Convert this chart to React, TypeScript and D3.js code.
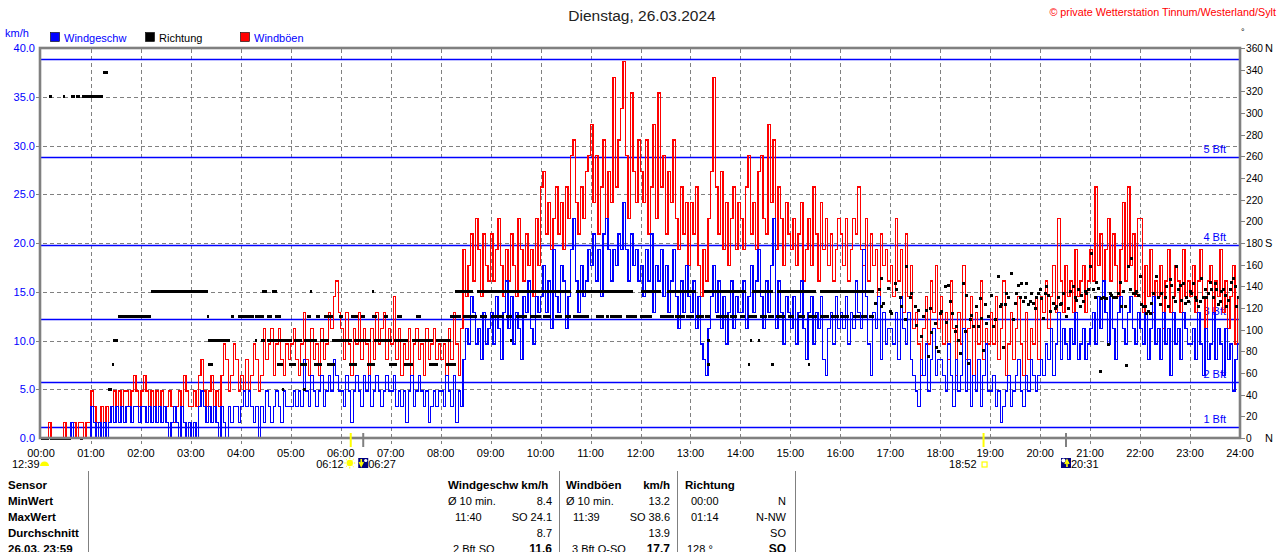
import React from 'react';
import * as d3 from 'd3';

// ---------- data ----------
const KMH_PER_STEP = 1.609; // station resolution: 1 mph
const SAMPLE_MIN = 3; // one reading every 3 minutes

// wind speed (Windgeschw), in station steps, 20 readings per hour
const speedSteps = [
  0,0,0,0,0,0,0,0,0,0,0,0,1,0,0,0,0,0,0,0,
  2,1,0,1,0,1,0,1,2,1,2,1,2,1,2,2,1,2,2,1,
  2,2,1,2,1,2,1,2,1,2,1,0,1,2,1,0,2,1,0,1,
  0,1,0,2,3,2,1,2,1,2,1,0,2,1,0,2,1,2,2,1,
  2,3,2,3,2,1,2,0,2,1,3,2,1,2,3,2,1,3,2,2,
  2,3,2,3,2,5,3,2,4,3,2,3,4,2,3,4,3,5,4,3,
  3,2,4,3,1,3,4,3,2,4,3,4,2,3,4,3,2,3,4,3,
  3,4,2,3,2,3,1,3,4,2,3,4,3,2,3,1,2,3,2,3,
  3,2,4,3,2,4,1,3,2,5,7,6,9,8,6,7,5,8,6,7,
  8,6,9,7,5,8,10,7,9,6,8,7,5,9,8,10,7,6,9,8,
  9,11,8,10,7,12,9,8,11,10,7,9,12,14,10,8,11,9,10,12,
  11,13,10,12,9,13,14,12,10,12,11,13,12,15,12,10,13,11,12,10,
  11,9,12,10,13,8,11,10,12,9,11,8,10,12,9,7,10,8,11,9,
  8,10,7,9,6,5,4,7,9,11,8,10,7,9,6,8,10,7,9,8,
  8,10,7,9,11,8,10,12,9,7,10,8,11,14,7,10,8,6,9,8,
  7,9,6,8,10,7,5,8,9,6,8,7,9,5,4,7,8,6,9,7,
  8,7,9,6,8,7,10,8,7,12,9,6,4,8,7,9,5,8,6,7,
  7,6,8,5,9,7,6,8,5,4,3,2,5,4,6,3,5,7,4,5,
  5,4,3,6,4,2,5,3,4,7,3,5,2,4,3,5,2,4,6,3,
  3,4,2,3,1,2,3,4,2,3,4,5,3,2,4,3,5,4,3,4,
  5,4,6,5,7,4,6,8,5,7,6,5,7,6,8,5,6,7,5,6,
  7,8,6,9,7,10,8,6,9,7,5,8,9,7,6,8,9,7,6,8,
  7,6,8,5,7,9,6,7,5,8,6,7,4,8,6,7,5,8,7,6,
  6,7,5,8,6,4,7,5,6,8,5,7,6,4,7,5,6,3,5,6,
];

// gusts (Windböen), in station steps
const gustSteps = [
  0,0,0,1,0,0,0,0,0,1,0,0,1,1,0,1,1,0,1,1,
  3,2,1,1,2,1,2,1,2,3,2,3,2,3,3,2,3,4,3,2,
  3,4,3,2,3,2,3,2,3,2,2,3,2,1,2,3,2,4,3,2,
  2,3,2,4,5,3,2,3,4,2,3,2,4,6,5,3,4,6,5,3,
  4,3,5,3,4,6,5,3,4,7,5,6,7,4,6,7,5,4,6,5,
  6,7,5,4,6,8,5,4,7,5,6,4,7,5,6,8,7,9,10,8,
  7,5,8,6,4,7,6,8,5,7,6,4,7,5,8,6,7,8,5,7,
  6,9,5,7,4,6,5,7,4,6,7,5,6,4,7,5,6,7,5,6,
  5,6,4,7,5,8,6,4,7,12,9,11,13,10,14,12,9,13,11,10,
  13,10,12,14,11,9,12,10,13,11,9,14,12,10,13,11,12,9,14,11,
  16,17,13,15,12,14,16,13,15,12,16,14,18,19,15,13,16,14,17,18,
  20,15,18,13,16,19,14,17,15,23,16,19,21,24,18,14,22,17,15,19,
  17,15,19,13,16,20,14,22,16,18,13,17,15,19,14,12,16,13,15,11,
  15,13,16,11,9,12,10,14,17,23,16,13,17,12,15,11,14,16,12,15,
  14,12,16,18,13,15,12,17,18,14,13,20,15,19,12,16,14,11,15,13,
  12,14,11,13,15,10,12,14,11,16,13,10,15,12,14,11,13,10,12,14,
  13,11,14,10,12,14,13,16,12,11,14,10,13,11,12,9,13,11,12,10,
  11,9,14,10,12,8,13,9,11,7,8,6,4,7,9,6,10,8,11,7,
  9,6,8,5,10,7,4,8,6,11,5,7,9,4,8,6,10,5,7,6,
  8,6,9,5,7,10,4,6,8,5,7,9,6,4,8,5,7,6,9,5,
  9,8,10,7,9,11,8,14,10,8,11,9,10,8,12,9,10,11,8,10,
  12,10,16,11,13,9,12,14,10,13,11,9,12,15,10,16,11,13,9,14,
  14,8,11,9,12,8,10,9,11,7,10,12,8,9,11,10,8,12,9,10,
  9,11,8,10,12,9,7,10,11,8,10,9,12,8,10,7,9,11,6,9,
];

// direction (Richtung) runs: [start minute, end minute, degrees]
const dirRuns: [number, number, number][] = [
  [0,9,0],[11,25,0],[27,35,0],[47,48,0],
  [10,10,315],[26,26,315],[36,40,315],[42,46,315],[49,73,315],
  [74,79,337.5],[80,84,45],[85,85,67.5],[86,91,90],[92,131,112.5],[132,199,135],
  [199,200,112.5],[201,206,67.5],[200,226,90],
  [228,231,112.5],[236,255,112.5],[257,267,112.5],[271,277,112.5],[281,287,112.5],
  [265,270,135],[277,282,135],[323,323,135],[397,397,135],
  [257,258,90],[264,268,90],[272,287,90],
  [287,300,90],[304,312,90],[316,330,90],[335,345,90],[350,372,90],[376,395,90],
  [400,420,90],[424,440,90],[445,470,90],[474,491,90],
  [283,290,67.5],[298,305,67.5],[311,318,67.5],[328,336,67.5],[344,352,67.5],[370,378,67.5],
  [392,400,67.5],[418,426,67.5],[436,446,67.5],[466,476,67.5],[486,497,67.5],
  [319,323,112.5],[330,334,112.5],[340,350,112.5],[358,362,112.5],[372,380,112.5],
  [384,388,112.5],[398,402,112.5],[412,416,112.5],[428,432,112.5],[450,455,112.5],
  [289,289,45],[315,315,45],
  [497,518,135],[524,636,135],[642,710,135],[720,744,135],[752,786,135],
  [796,846,135],[854,878,135],[884,930,135],[936,999,135],
  [491,503,112.5],[507,523,112.5],[527,535,112.5],[541,555,112.5],[559,565,112.5],
  [571,583,112.5],[587,599,112.5],[603,611,112.5],[617,625,112.5],[629,635,112.5],
  [639,657,112.5],[667,675,112.5],[679,681,112.5],[683,689,112.5],[691,697,112.5],
  [703,715,112.5],[719,733,112.5],[743,759,112.5],[761,773,112.5],[775,783,112.5],
  [787,795,112.5],[797,803,112.5],[811,825,112.5],[827,835,112.5],[839,845,112.5],
  [849,859,112.5],[863,871,112.5],[873,879,112.5],[883,893,112.5],[897,903,112.5],
  [909,917,112.5],[921,931,112.5],[935,945,112.5],[949,957,112.5],[959,969,112.5],
  [975,983,112.5],[985,991,112.5],[994,999,112.5],
  [563,563,90],[800,800,90],[851,851,90],[861,861,90],
  [800,800,67.5],[849,849,67.5],[877,877,67.5],[921,921,67.5],
];

// direction single readings in the evening: [minute, degrees]
const dirDots: [number, number][] = [
  [1002,124],[1007,137],[1009,147],[1010,121],[1012,124],[1018,138],[1020,117],[1022,115],[1026,143],[1028,137],
  [1032,130],[1034,121],[1038,109],[1040,158],[1044,130],[1046,133],[1050,121],[1052,104],[1054,118],[1058,94],
  [1060,112],[1063,118],[1066,75],[1068,120],[1070,97],[1074,106],[1076,84],[1078,80],[1080,115],[1082,117],
  [1086,140],[1088,107],[1090,141],[1092,126],[1095,115],[1098,98],[1100,103],[1102,90],[1104,78],[1108,143],
  [1110,98],[1112,132],[1114,69],[1116,109],[1118,113],[1120,103],[1124,121],[1126,103],[1128,129],[1130,110],
  [1132,81],[1134,123],[1136,106],[1138,112],[1142,132],[1144,103],[1146,109],[1150,149],[1152,121],[1154,123],
  [1156,84],[1158,123],[1160,133],[1162,130],[1166,152],[1168,109],[1170,124],[1172,133],[1174,141],[1176,130],
  [1178,143],[1180,126],[1182,130],[1184,143],[1186,123],[1188,126],[1190,133],[1192,124],[1194,120],[1196,130],
  [1198,133],[1200,137],[1202,129],[1204,110],[1206,133],[1208,140],[1210,132],[1212,117],[1216,124],[1218,120],
  [1220,121],[1222,130],[1224,123],[1226,124],[1228,133],[1232,112],[1234,120],[1236,135],[1240,140],[1242,130],
  [1244,127],[1246,137],[1248,121],[1250,132],[1252,126],[1254,135],[1256,133],[1258,137],[1260,158],[1262,170],
  [1264,137],[1266,130],[1268,144],[1270,138],[1272,61],[1274,129],[1276,130],[1278,129],[1280,129],[1282,86],
  [1284,133],[1286,132],[1288,130],[1292,130],[1294,133],[1296,144],[1298,121],[1300,135],[1302,121],[1304,67],
  [1306,158],[1308,137],[1310,166],[1312,133],[1314,133],[1316,135],[1318,132],[1320,149],[1322,123],[1324,121],
  [1326,121],[1328,115],[1330,117],[1332,115],[1334,124],[1336,133],[1340,149],[1342,130],[1344,123],[1346,133],
  [1350,130],[1352,140],[1354,121],[1356,146],[1358,141],[1360,130],[1362,126],[1364,158],[1366,137],[1368,141],
  [1370,127],[1372,143],[1374,124],[1376,130],[1378,126],[1380,135],[1382,133],[1384,143],[1386,130],[1388,127],
  [1390,121],[1392,126],[1394,147],[1396,130],[1398,137],[1400,130],[1402,133],[1404,144],[1406,137],[1408,130],
  [1410,143],[1412,137],[1414,123],[1416,126],[1418,135],[1420,137],[1422,132],[1424,121],[1426,127],[1428,137],
  [1430,144],[1432,147],[1434,140],[1436,121],[1438,130],
];

const bftLevels = [1.08, 5.76, 12.24, 19.8, 28.8, 38.88];
const bftLabels = ['1 Bft', '2 Bft', '3 Bft', '4 Bft', '5 Bft', ''];
const kmhTicks = [0, 5, 10, 15, 20, 25, 30, 35, 40];
const dirTicks = [0, 20, 40, 60, 80, 100, 120, 140, 160, 180, 200, 220, 240, 260, 280, 300, 320, 340, 360];
const dirTickSuffix: Record<number, string> = { 0: 'N', 180: 'S', 360: 'N' };
const hourTicks = d3.range(0, 25);

// sun / moon events (minutes)
const sunrise = { t: 372, label: '06:12' };
const moonrise = { t: 387, label: '06:27' };
const sunset = { t: 1132, label: '18:52' };
const moonset = { t: 1231, label: '20:31' };

const tableRows = ['Sensor', 'MinWert', 'MaxWert', 'Durchschnitt', '26.03. 23:59'];

// ---------- chart ----------
const FONT = '"Liberation Sans", Arial, sans-serif';
const BLUE = '#0000ff';
const GRID = '#808080';

export default function App() {
  const x = d3.scaleLinear().domain([0, 1440]).range([41, 1240]);
  const y = d3.scaleLinear().domain([0, 40]).range([438, 48]);
  const yDir = d3.scaleLinear().domain([0, 360]).range([438, 48]);

  const toPoints = (arr: number[]): [number, number][] => {
    const pts: [number, number][] = arr.map((v, i) => [i * SAMPLE_MIN, v * KMH_PER_STEP]);
    pts.push([1440, arr[arr.length - 1] * KMH_PER_STEP]);
    return pts;
  };
  const line = d3
    .line<[number, number]>()
    .x((d) => x(d[0]))
    .y((d) => y(d[1]))
    .curve(d3.curveStepAfter);

  const speedPath = line(toPoints(speedSteps)) || '';
  const gustPath = line(toPoints(gustSteps)) || '';

  const fmtHour = (h: number) => `${String(h).padStart(2, '0')}:00`;

  const txt = { fontFamily: FONT, fontSize: 11 } as const;

  return (
    <svg
      width={1280}
      height={552}
      style={{ position: 'fixed', left: 0, top: 0, background: '#fff' }}
    >
      <rect x={0} y={0} width={1280} height={552} fill="#fff" />
      {/* title */}
      <text x={642} y={21} textAnchor="middle" fontFamily={FONT} fontSize={15.5} fill="#222">
        Dienstag, 26.03.2024
      </text>
      <text x={1276} y={16} textAnchor="end" fontFamily={FONT} fontSize={10.8} fill="#ff0000">
        © private Wetterstation Tinnum/Westerland/Sylt
      </text>
      <text x={1241} y={35} {...txt} fontSize={9} fill="#000">°</text>

      {/* unit + legend */}
      <text x={5} y={37} {...txt} fill={BLUE}>km/h</text>
      <rect x={50.5} y={32.5} width={9} height={9} fill={BLUE} stroke="#000" strokeWidth={0.6} />
      <text x={64} y={42} {...txt} fill={BLUE}>Windgeschw</text>
      <rect x={145.5} y={32.5} width={9} height={9} fill="#000" stroke="#000" strokeWidth={0.6} />
      <text x={159} y={42} {...txt} fill="#000">Richtung</text>
      <rect x={240.5} y={32.5} width={9} height={9} fill="#ff0000" stroke="#000" strokeWidth={0.6} />
      <text x={254} y={42} {...txt} fill={BLUE}>Windböen</text>

      {/* grid */}
      {hourTicks.slice(1, 24).map((h) => (
        <line key={'vg' + h} x1={Math.round(x(h * 60)) + 0.5} x2={Math.round(x(h * 60)) + 0.5} y1={49} y2={444}
          stroke={GRID} strokeDasharray="4,3" strokeWidth={1} />
      ))}
      {kmhTicks.slice(1, 8).map((v) => (
        <line key={'hg' + v} x1={36} x2={1240} y1={Math.round(y(v)) + 0.5} y2={Math.round(y(v)) + 0.5}
          stroke={GRID} strokeDasharray="4,3" strokeWidth={1} />
      ))}

      {/* Beaufort lines */}
      {bftLevels.map((v, i) => (
        <g key={'bft' + i}>
          <line x1={41} x2={1239} y1={Math.round(y(v)) + 0.5} y2={Math.round(y(v)) + 0.5} stroke={BLUE} strokeWidth={1.3} />
          {bftLabels[i] && (
            <text x={1226} y={y(v) - 4} textAnchor="end" {...txt} fill={BLUE}>{bftLabels[i]}</text>
          )}
        </g>
      ))}

      {/* data */}
      <path d={gustPath} fill="none" stroke="#ff0000" strokeWidth={1.3} shapeRendering="crispEdges" />
      <path d={speedPath} fill="none" stroke={BLUE} strokeWidth={1.3} shapeRendering="crispEdges" />
      {dirRuns.map((r, i) => (
        <rect key={'dr' + i} x={x(r[0])} y={yDir(r[2]) - 1.5} width={Math.max(2.5, x(r[1] + 1) - x(r[0]))} height={3}
          fill="#000" shapeRendering="crispEdges" />
      ))}
      {dirDots.map((d, i) => (
        <rect key={'dd' + i} x={x(d[0]) - 1.5} y={yDir(d[1]) - 1.5} width={3} height={3} fill="#000"
          shapeRendering="crispEdges" />
      ))}

      {/* frame */}
      <rect x={40} y={48} width={1200} height={390} fill="none" stroke={GRID} strokeWidth={2.6} />

      {/* left axis */}
      {kmhTicks.map((v) => (
        <text key={'yl' + v} x={35} y={y(v) + 4} textAnchor="end" {...txt} fill={BLUE}>{v.toFixed(1)}</text>
      ))}
      {/* right axis */}
      {dirTicks.map((v) => (
        <g key={'rl' + v}>
          <line x1={1240} x2={1245} y1={Math.round(yDir(v)) + 0.5} y2={Math.round(yDir(v)) + 0.5} stroke={GRID} strokeWidth={1} />
          <text x={1246} y={yDir(v) + 4} fontFamily={FONT} fontSize={10.2} fill="#000">{v}</text>
          {dirTickSuffix[v] && <text x={1265} y={yDir(v) + 4} {...txt} fill="#000">{dirTickSuffix[v]}</text>}
        </g>
      ))}
      {/* x axis labels */}
      {hourTicks.map((h) => (
        <text key={'xl' + h} x={x(h * 60)} y={457} textAnchor="middle" {...txt} fill="#000">{fmtHour(h)}</text>
      ))}

      {/* sun & moon markers */}
      <line x1={x(sunrise.t)} x2={x(sunrise.t)} y1={433} y2={447} stroke="#ffff00" strokeWidth={2} />
      <line x1={x(moonrise.t)} x2={x(moonrise.t)} y1={433} y2={447} stroke={GRID} strokeWidth={2} />
      <line x1={x(sunset.t)} x2={x(sunset.t)} y1={433} y2={447} stroke="#ffff00" strokeWidth={2} />
      <line x1={x(moonset.t)} x2={x(moonset.t)} y1={433} y2={447} stroke={GRID} strokeWidth={2} />

      <text x={12} y={468} {...txt} fill="#000">12:39</text>
      <path d="M40,466 A4.5,4.5 0 0 1 49,466 Z" fill="#ffff00" />

      <text x={x(sunrise.t) - 7} y={468} textAnchor="end" {...txt} fill="#000">{sunrise.label}</text>
      <g>
        <circle cx={x(sunrise.t) - 1} cy={463} r={3.2} fill="#ffff00" />
        {d3.range(8).map((k) => {
          const a = (k * Math.PI) / 4;
          const cx = x(sunrise.t) - 1;
          return (
            <line key={'ray' + k} x1={cx + Math.cos(a) * 4} y1={463 + Math.sin(a) * 4} x2={cx + Math.cos(a) * 5.5}
              y2={463 + Math.sin(a) * 5.5} stroke="#ffff00" strokeWidth={1} />
          );
        })}
      </g>
      <rect x={x(moonrise.t) - 5} y={458} width={10} height={10} fill="#000080" />
      <circle cx={x(moonrise.t) + 2.5} cy={460.5} r={1.6} fill="#fff" />
      <path d={`M${x(moonrise.t) - 2},459 V464 M${x(moonrise.t) - 4},462 L${x(moonrise.t) - 2},466 L${x(moonrise.t)},462`} stroke="#ffff00" strokeWidth={1.6} fill="none" />
      <text x={x(moonrise.t) + 5} y={468} {...txt} fill="#000">{moonrise.label}</text>

      <text x={x(sunset.t) - 7} y={468} textAnchor="end" {...txt} fill="#000">{sunset.label}</text>
      <rect x={x(sunset.t) - 1.5} y={462} width={5} height={5} fill="none" stroke="#ffff00" strokeWidth={1.2} />

      <rect x={x(moonset.t) - 5} y={458} width={10} height={10} fill="#000080" />
      <circle cx={x(moonset.t) - 2.5} cy={460.5} r={2} fill="#fff" />
      <path d={`M${x(moonset.t) + 1},467 V462 M${x(moonset.t) - 1},464 L${x(moonset.t) + 1},460 L${x(moonset.t) + 3},464`} stroke="#ffff00" strokeWidth={1.6} fill="none" />
      <text x={x(moonset.t) + 5} y={468} {...txt} fill="#000">{moonset.label}</text>

      {/* table */}
      {[88, 559, 677, 795].map((sx) => (
        <line key={'sep' + sx} x1={sx + 0.5} x2={sx + 0.5} y1={471} y2={552} stroke={GRID} strokeWidth={1} />
      ))}
      {tableRows.map((r, i) => (
        <text key={'tr' + i} x={8} y={489 + i * 16} fontFamily={FONT} fontSize={11.5} fontWeight="bold" fill="#000">{r}</text>
      ))}
      <g fontFamily={FONT} fontSize={11.5} fill="#000">
        <text x={448} y={489} fontWeight="bold">Windgeschw km/h</text>
        <text x={566} y={489} fontWeight="bold">Windböen</text>
        <text x={670} y={489} fontWeight="bold" textAnchor="end">km/h</text>
        <text x={685} y={489} fontWeight="bold">Richtung</text>
      </g>
      <g fontFamily={FONT} fontSize={11} fill="#000">
        <text x={448} y={505}>Ø 10 min.</text>
        <text x={552} y={505} textAnchor="end">8.4</text>
        <text x={566} y={505}>Ø 10 min.</text>
        <text x={670} y={505} textAnchor="end">13.2</text>
        <text x={691} y={505}>00:00</text>
        <text x={786} y={505} textAnchor="end">N</text>

        <text x={455} y={521}>11:40</text>
        <text x={552} y={521} textAnchor="end">SO 24.1</text>
        <text x={573} y={521}>11:39</text>
        <text x={670} y={521} textAnchor="end">SO 38.6</text>
        <text x={691} y={521}>01:14</text>
        <text x={786} y={521} textAnchor="end">N-NW</text>

        <text x={552} y={537} textAnchor="end">8.7</text>
        <text x={670} y={537} textAnchor="end">13.9</text>
        <text x={786} y={537} textAnchor="end">SO</text>

        <text x={453} y={553}>2 Bft SO</text>
        <text x={552} y={553} textAnchor="end" fontWeight="bold" fontSize={12}>11.6</text>
        <text x={572} y={553}>3 Bft O-SO</text>
        <text x={670} y={553} textAnchor="end" fontWeight="bold" fontSize={12}>17.7</text>
        <text x={687} y={553}>128 °</text>
        <text x={786} y={553} textAnchor="end" fontWeight="bold" fontSize={12}>SO</text>
      </g>
    </svg>
  );
}
